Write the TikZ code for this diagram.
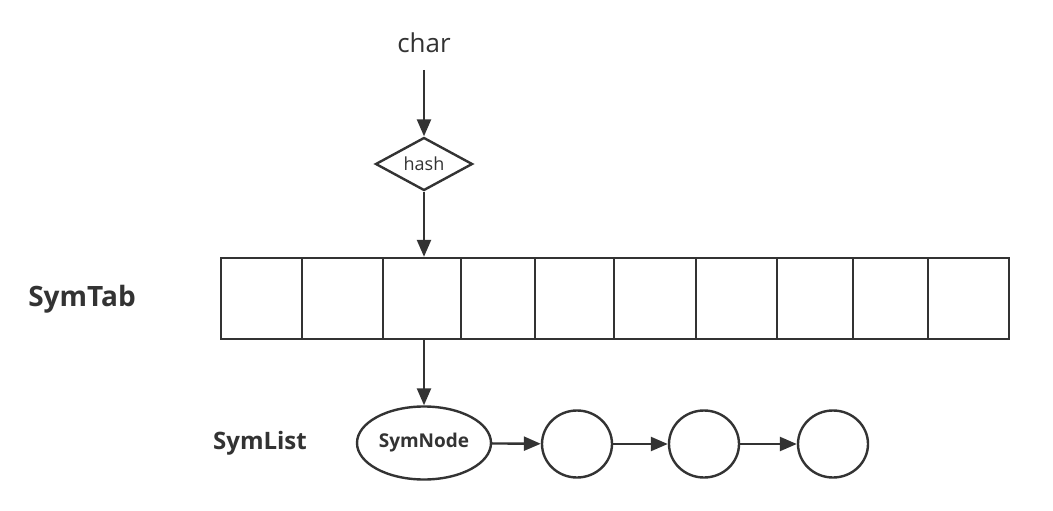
\documentclass[tikz,border=0pt]{standalone}
\usepackage{fontspec}
\setmainfont{Open Sans}
\usetikzlibrary{shapes.geometric,arrows.meta}
\definecolor{ln}{HTML}{333333}
\begin{document}
\begin{tikzpicture}[x=1pt,y=-1pt,
  line width=2.4pt, draw=ln, text=ln,
  arr/.style={-{Triangle[length=17pt,width=14pt]}, line width=2.4pt, draw=ln},
  cell/.style={draw=ln, line width=2.4pt, minimum height=81pt, inner sep=0pt},
  circ/.style={draw=ln, line width=2.4pt, ellipse, minimum width=70pt, minimum height=67pt, inner sep=0pt}]
\useasboundingbox (0,0) rectangle (1053,511);
\node (char) at (424,43) {\fontsize{26}{30}\selectfont char};
\node[diamond, draw=ln, line width=2.4pt, aspect=1.83, minimum width=97pt, minimum height=53pt, inner sep=0pt] (hash) at (424,164) {\fontsize{18}{21}\selectfont hash};
\draw[arr] (424,70) -- (hash.north);
% table
\foreach \i/\a/\b in {1/221/302,2/302/383,3/383/461,4/461/535,5/535/614,6/614/696,7/696/777,8/777/853,9/853/928,10/928/1009}{
  \pgfmathsetmacro\w{\b-\a}
  \pgfmathsetmacro\c{(\a+\b)/2}
  \node[cell, minimum width=\w pt] (c\i) at (\c,298.5) {};
}
\node[font=\bfseries\fontsize{28}{32}\selectfont] (symtab) at (82,299) {SymTab};
\draw[arr] (hash.south) -- (hash.south |- c3.north);
\node[draw=ln, line width=2.4pt, ellipse, minimum width=134pt, minimum height=73pt, inner sep=0pt, font=\bfseries\fontsize{19}{22}\selectfont] (sn) at (424,443) {SymNode};
\draw[arr] (sn.north |- c3.south) -- (sn.north);
\node[font=\bfseries\fontsize{24}{28}\selectfont] (symlist) at (260,443) {SymList};
\node[circ] (n1) at (577,444) {};
\node[circ] (n2) at (704,444) {};
\node[circ] (n3) at (833,444) {};
\draw[arr] (sn) -- (n1);
\draw[arr] (n1) -- (n2);
\draw[arr] (n2) -- (n3);
\end{tikzpicture}
\end{document}
